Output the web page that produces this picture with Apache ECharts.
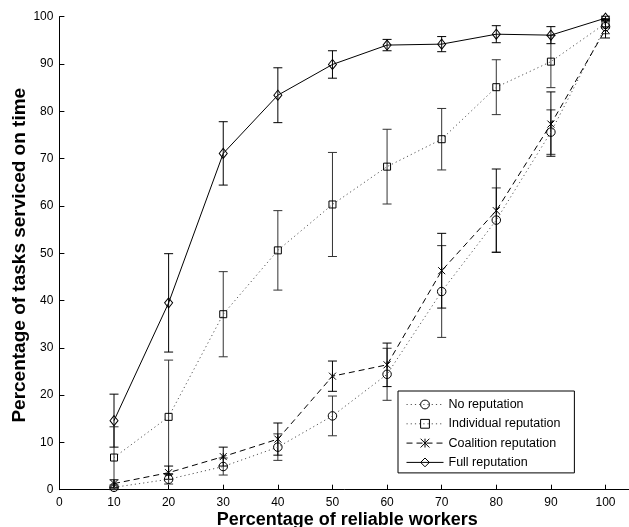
<!DOCTYPE html>
<html>
<head>
<meta charset="utf-8">
<script src="https://cdn.jsdelivr.net/npm/echarts@6/dist/echarts.min.js"></script>
<style>
html,body{margin:0;padding:0;background:#fff;}
#chart{width:629px;height:527px;}
</style>
</head>
<body>
<div id="chart"></div>
<script>
// ---- data ----
const xValues = [10, 20, 30, 40, 50, 60, 70, 80, 90, 100];
const xTickLabels = [0, 10, 20, 30, 40, 50, 60, 70, 80, 90, 100];
const yTickLabels = [0, 10, 20, 30, 40, 50, 60, 70, 80, 90, 100];

const seriesNames = ['No reputation', 'Individual reputation', 'Coalition reputation', 'Full reputation'];

const noRep        = [0.5, 2.2, 4.9, 9.0, 15.6, 24.4, 41.9, 57.0, 75.6, 97.9];
const noRepErr     = [0.5, 1.0, 1.8, 2.8, 4.2, 5.5, 9.7, 6.8, 4.7, 1.5];

const indRep       = [6.8, 15.4, 37.1, 50.6, 60.3, 68.3, 74.1, 85.1, 90.5, 98.6];
const indRepErr    = [6.5, 12.0, 9.0, 8.4, 11.0, 7.9, 6.5, 5.8, 5.5, 1.0];

const coalRep      = [1.3, 3.6, 7.0, 10.7, 24.0, 26.4, 46.3, 59.0, 77.3, 97.3];
const coalRepErr   = [0.8, 1.4, 2.0, 3.4, 3.2, 4.6, 7.9, 8.8, 6.8, 1.8];

const fullRep      = [14.6, 39.5, 71.1, 83.4, 89.9, 94.0, 94.2, 96.3, 96.1, 99.7];
const fullRepErr   = [5.6, 10.4, 6.7, 5.8, 2.9, 1.2, 1.6, 1.8, 1.8, 0.4];

// ---- build chart ----
const FONT = "'Liberation Sans', Arial, Helvetica, sans-serif";
const means = [noRep, indRep, coalRep, fullRep];
const errs  = [noRepErr, indRepErr, coalRepErr, fullRepErr];

const styles = [
  { symbol: 'circle', size: 8.5, line: { color: '#555', width: 1, type: [1.2, 3] }, bar: '#333' },
  { symbol: 'rect', size: 7, line: { color: '#555', width: 1, type: [1.2, 3] }, bar: '#333' },
  { symbol: 'path://M0,0L10,10M10,0L0,10M5,0L5,10', size: 7, line: { color: '#000', width: 1, type: [6, 4] }, bar: '#000' },
  { symbol: 'diamond', size: [8, 10], line: { color: '#000', width: 1, type: 'solid' }, bar: '#000' }
];

function errSeries(idx) {
  const m = means[idx], e = errs[idx], col = styles[idx].bar;
  return {
    type: 'custom',
    name: seriesNames[idx] + ' err',
    silent: true,
    z: 1,
    encode: { x: 0, y: [1, 2] },
    data: xValues.map((x, i) => [x, m[i] - e[i], m[i] + e[i]]),
    renderItem: function (params, api) {
      const x = api.value(0);
      const lo = api.coord([x, api.value(1)]);
      const hi = api.coord([x, api.value(2)]);
      const hw = 4.5;
      const st = { stroke: col, lineWidth: 1 };
      return {
        type: 'group',
        children: [
          { type: 'line', shape: { x1: hi[0], y1: hi[1], x2: lo[0], y2: lo[1] }, style: st },
          { type: 'line', shape: { x1: hi[0] - hw, y1: hi[1], x2: hi[0] + hw, y2: hi[1] }, style: st },
          { type: 'line', shape: { x1: lo[0] - hw, y1: lo[1], x2: lo[0] + hw, y2: lo[1] }, style: st }
        ]
      };
    }
  };
}

function lineSeries(idx) {
  const s = styles[idx];
  return {
    type: 'line',
    name: seriesNames[idx],
    z: 3,
    data: xValues.map((x, i) => [x, means[idx][i]]),
    symbol: s.symbol,
    symbolSize: s.size,
    showAllSymbol: true,
    lineStyle: s.line,
    itemStyle: { color: 'rgba(0,0,0,0)', borderColor: '#000', borderWidth: 1 },
    emphasis: { disabled: true },
    animation: false
  };
}

const series = [];
for (let i = 0; i < 4; i++) series.push(errSeries(i));
for (let i = 0; i < 4; i++) series.push(lineSeries(i));

const chart = echarts.init(document.getElementById('chart'), null, { renderer: 'canvas' });
chart.setOption({
  animation: false,
  backgroundColor: '#fff',
  textStyle: { fontFamily: FONT, color: '#000' },
  grid: { left: 59.4, right: 0, top: 16.7, bottom: 37.3, containLabel: false, outerBoundsMode: 'none' },
  xAxis: {
    type: 'value',
    min: 0, max: 104.3, interval: 10,
    name: 'Percentage of reliable workers',
    nameLocation: 'middle',
    nameGap: 21,
    nameMoveOverlap: false,
    nameTextStyle: { fontFamily: FONT, fontSize: 18, fontWeight: 'bold', color: '#000', padding: [0, 0, 0, 6] },
    axisLine: { show: true, onZero: false, lineStyle: { color: '#000', width: 1 } },
    axisTick: { show: true, inside: true, length: 5, lineStyle: { color: '#000' } },
    axisLabel: {
      fontFamily: FONT, fontSize: 12, color: '#000', margin: 7,
      formatter: v => (xTickLabels.indexOf(v) >= 0 ? String(v) : '')
    },
    splitLine: { show: false }
  },
  yAxis: {
    type: 'value',
    min: 0, max: 100, interval: 10,
    name: 'Percentage of tasks serviced on time',
    nameLocation: 'middle',
    nameGap: 30,
    nameMoveOverlap: false,
    nameTextStyle: { fontFamily: FONT, fontSize: 19, fontWeight: 'bold', color: '#000', padding: [0, 4, 0, 0] },
    axisLine: { show: true, lineStyle: { color: '#000', width: 1 } },
    axisTick: { show: true, inside: true, length: 5, lineStyle: { color: '#000' } },
    axisLabel: {
      fontFamily: FONT, fontSize: 12, color: '#000', margin: 6,
      formatter: v => (yTickLabels.indexOf(v) >= 0 ? String(v) : '')
    },
    splitLine: { show: false }
  },
  legend: {
    data: seriesNames,
    orient: 'vertical',
    left: 398, top: 391,
    padding: [7, 14, 4, 8],
    itemWidth: 37, itemHeight: 11, itemGap: 6.3,
    backgroundColor: '#fff',
    borderColor: '#000', borderWidth: 1,
    selectedMode: false,
    lineStyle: { width: 1 },
    itemStyle: { borderWidth: 1 },
    textStyle: { fontFamily: FONT, fontSize: 12.5, color: '#000' }
  },
  series: series
});
</script>
</body>
</html>
